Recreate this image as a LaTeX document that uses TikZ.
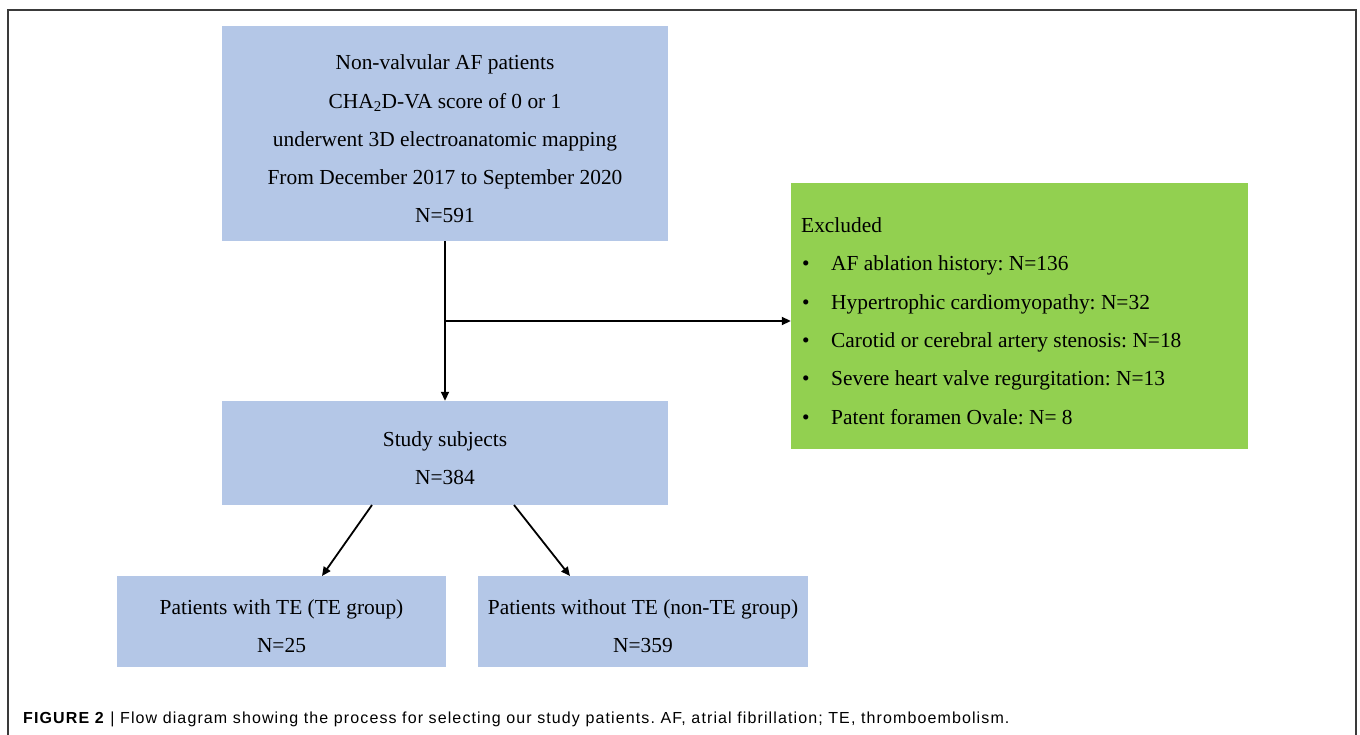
\documentclass[tikz,border=0pt]{standalone}
\usepackage{fontspec}
\setmainfont{Liberation Serif}
\newfontfamily\capfont[LetterSpace=7]{Liberation Sans}
\usetikzlibrary{arrows.meta}
\definecolor{boxblue}{HTML}{B4C7E7}
\definecolor{boxgreen}{HTML}{92D050}
\definecolor{framegray}{HTML}{3A3A3A}
\frenchspacing
\begin{document}
\begin{tikzpicture}[x=1pt,y=-1pt,
  bluebox/.style={fill=boxblue,draw=none,inner sep=0pt},
  boxtext/.style={inner sep=0pt,align=center,font=\fontsize{21.4}{38.3}\selectfont},
  arr/.style={draw=black,line width=1.8pt,-{Triangle[length=9pt,width=8pt]}},
  ]
\useasboundingbox (0,0) rectangle (1360,735);
\draw[framegray,line width=1.5pt] (8,735) -- (8,10) -- (1356,10) -- (1356,735);

\node[bluebox,minimum width=446pt,minimum height=215pt] (top) at (445,133.5) {};
\node[boxtext] (toptext) at (445,139)
  {Non-valvular AF patients\\CHA\textsubscript{2}D-VA score of 0 or 1\\underwent 3D electroanatomic mapping\\From December 2017 to September 2020\\N=591};
\node[bluebox,minimum width=446pt,minimum height=104pt] (study) at (445,453) {};
\node[boxtext] (studytext) at (445,458) {Study subjects\\N=384};
\node[bluebox,minimum width=329pt,minimum height=91pt] (te) at (281.5,621.5) {};
\node[boxtext] (tetext) at (281.5,626.5) {Patients with TE (TE group)\\N=25};
\node[bluebox,minimum width=330pt,minimum height=91pt] (nte) at (643,621.5) {};
\node[boxtext] (ntetext) at (643,626.5) {Patients without TE (non-TE group)\\N=359};
\node[fill=boxgreen,draw=none,inner sep=0pt,minimum width=457pt,minimum height=266pt] (excl) at (1019.5,316) {};
\node[anchor=west,align=left,inner sep=0pt,font=\fontsize{21.4}{38.3}\selectfont] (excltext) at (801,321)
  {Excluded\\
   \makebox[30pt][l]{\hspace{1pt}\textbullet}AF ablation history: N=136\\
   \makebox[30pt][l]{\hspace{1pt}\textbullet}Hypertrophic cardiomyopathy: N=32\\
   \makebox[30pt][l]{\hspace{1pt}\textbullet}Carotid or cerebral artery stenosis: N=18\\
   \makebox[30pt][l]{\hspace{1pt}\textbullet}Severe heart valve regurgitation: N=13\\
   \makebox[30pt][l]{\hspace{1pt}\textbullet}Patent foramen Ovale: N= 8};

\coordinate (branch) at (445,321);
\draw[arr] (top.south) -- (study.north);
\draw[arr] (branch) -- (branch -| excl.west);
\draw[arr] (372,505) -- (322,576);
\draw[arr] (514,505) -- (570,576);

\node[anchor=base west,inner sep=0pt,font=\capfont\fontsize{16}{18}\selectfont] (cap) at (23,723)
  {\textbf{FIGURE 2} | Flow diagram showing the process for selecting our study patients. AF, atrial fibrillation; TE, thromboembolism.};
\end{tikzpicture}
\end{document}
